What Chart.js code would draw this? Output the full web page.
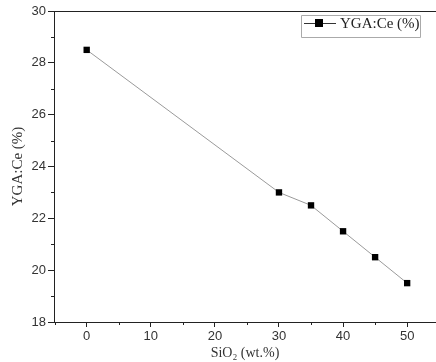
<!DOCTYPE html>
<html><head><meta charset="utf-8">
<script src="https://cdn.jsdelivr.net/npm/chart.js@4"></script>
<style>html,body{margin:0;padding:0;background:#fff;}#wrap{width:436px;height:362px;position:relative;}</style>
</head><body><div id="wrap"><canvas id="c" width="436" height="362"></canvas></div>
<script>
const siO2 = [0, 30, 35, 40, 45, 50];
const ygaCe = [28.5, 23.0, 22.5, 21.5, 20.5, 19.5];
const xTicks = [0, 10, 20, 30, 40, 50];
const yTicks = [18, 20, 22, 24, 26, 28, 30];
const seriesLabel = 'YGA:Ce (%)';
const xTitle = 'SiO₂ (wt.%)';
const yTitle = 'YGA:Ce (%)';

const sans = '"Liberation Sans", Arial, sans-serif';
const serif = '"Liberation Serif", "Times New Roman", serif';

const framePlugin = {
  id: 'frame',
  afterDraw(chart) {
    const {ctx, chartArea: a, scales: {x, y}} = chart;
    ctx.save();
    ctx.strokeStyle = '#222';
    ctx.lineWidth = 1;
    ctx.beginPath();
    ctx.moveTo(a.left, a.top + 0.5);
    ctx.lineTo(chart.width, a.top + 0.5);
    ctx.stroke();
    ctx.beginPath();
    for (let v = -5; v <= 55; v += 10) {
      const px = Math.round(x.getPixelForValue(v)) + 0.5;
      if (px < a.left || px > a.right) continue;
      ctx.moveTo(px, a.bottom);
      ctx.lineTo(px, a.bottom + 3);
    }
    for (let v = 19; v <= 29; v += 2) {
      const py = Math.round(y.getPixelForValue(v)) + 0.5;
      ctx.moveTo(a.left, py);
      ctx.lineTo(a.left - 3, py);
    }
    ctx.stroke();
    const lx = 301, ly = 15, lw = 119, lh = 22;
    ctx.strokeStyle = '#aaa';
    ctx.beginPath();
    ctx.rect(lx + 0.5, ly + 0.5, lw, lh);
    ctx.stroke();
    ctx.strokeStyle = '#333';
    ctx.beginPath();
    ctx.moveTo(lx + 3, ly + 8.5);
    ctx.lineTo(lx + 35, ly + 8.5);
    ctx.stroke();
    ctx.fillStyle = '#000';
    ctx.fillRect(lx + 14, ly + 4, 8, 8);
    ctx.fillStyle = '#222';
    ctx.font = '15px ' + serif;
    ctx.textBaseline = 'middle';
    ctx.fillText(chart.data.datasets[0].label, lx + 39, ly + 9.5);
    ctx.restore();
  }
};

new Chart(document.getElementById('c'), {
  type: 'scatter',
  data: {
    datasets: [{
      label: seriesLabel,
      data: siO2.map((v, i) => ({x: v, y: ygaCe[i]})),
      showLine: true,
      borderColor: '#9a9a9a',
      borderWidth: 1,
      pointStyle: 'rect',
      pointRadius: 4.5,
      pointBackgroundColor: '#000',
      pointBorderColor: '#000',
      pointBorderWidth: 0
    }]
  },
  options: {
    responsive: false,
    animation: false,
    devicePixelRatio: 1,
    layout: {autoPadding: false, padding: {top: 11, right: 0, left: 0, bottom: 0}},
    plugins: {legend: {display: false}, tooltip: {enabled: false}},
    scales: {
      x: {
        type: 'linear', min: -5.1, max: 54.5,
        afterBuildTicks(s) { s.ticks = xTicks.map(v => ({value: v})); },
        afterFit(s) { s.height = 40; s.paddingRight = 0; s.paddingLeft = 0; },
        grid: {drawOnChartArea: false, drawTicks: true, tickLength: 5, color: '#222'},
        border: {display: true, color: '#222', width: 1},
        ticks: {font: {family: sans, size: 13}, color: '#333', padding: 2, maxRotation: 0},
        title: {display: true, text: xTitle, font: {family: serif, size: 14}, color: '#333', padding: {top: 0, bottom: 0}}
      },
      y: {
        type: 'linear', min: 18, max: 30,
        afterBuildTicks(s) { s.ticks = yTicks.map(v => ({value: v})); },
        afterFit(s) { s.width = 54; s.paddingTop = 0; s.paddingBottom = 0; },
        grid: {drawOnChartArea: false, drawTicks: true, tickLength: 6, color: '#222'},
        border: {display: true, color: '#222', width: 1},
        ticks: {font: {family: sans, size: 13}, color: '#333', padding: 2},
        title: {display: true, text: yTitle, font: {family: serif, size: 15}, color: '#333', padding: {top: 9, bottom: 0}}
      }
    }
  },
  plugins: [framePlugin]
});
</script></body></html>
